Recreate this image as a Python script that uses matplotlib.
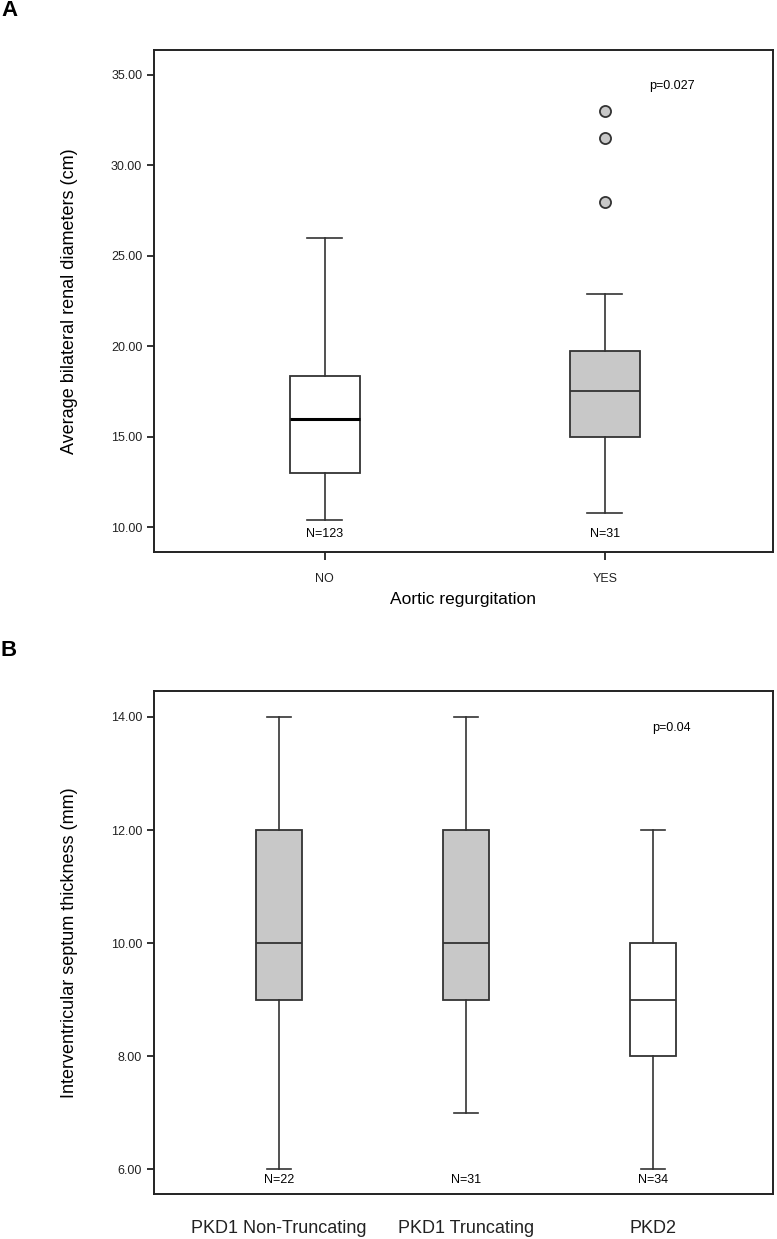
import matplotlib
matplotlib.use("Agg")
import matplotlib.pyplot as plt
from matplotlib.ticker import FormatStrFormatter

plt.rcParams['font.family'] = ['Liberation Sans', 'DejaVu Sans']

# panel A: average bilateral renal diameters by aortic regurgitation
a_groups = ["NO", "YES"]
a_n = [123, 31]
a_whislo = [10.4, 10.8]
a_q1 = [13.0, 15.0]
a_med = [16.0, 17.5]
a_q3 = [18.35, 19.75]
a_whishi = [26.0, 22.9]
a_fliers = [[], [28.0, 31.5, 33.0]]
a_fill = ["white", "#c8c8c8"]
a_ticks = [10, 15, 20, 25, 30, 35]

# panel B: interventricular septum thickness by genotype
b_groups = ["PKD1 Non-Truncating", "PKD1 Truncating", "PKD2"]
b_n = [22, 31, 34]
b_whislo = [6.0, 7.0, 6.0]
b_q1 = [9.0, 9.0, 8.0]
b_med = [10.0, 10.0, 9.0]
b_q3 = [12.0, 12.0, 10.0]
b_whishi = [14.0, 14.0, 12.0]
b_fill = ["#c8c8c8", "#c8c8c8", "white"]
b_ticks = [6, 8, 10, 12, 14]

W, H = 777, 1239
fig = plt.figure(figsize=(W / 100, H / 100), dpi=100)

edge = "#333333"


def make_stats(whislo, q1, med, q3, whishi, fliers):
    stats = []
    for i in range(len(med)):
        stats.append(dict(whislo=whislo[i], q1=q1[i], med=med[i], q3=q3[i],
                          whishi=whishi[i], fliers=fliers[i]))
    return stats


def style_axes(ax):
    for s in ax.spines.values():
        s.set_linewidth(1.4)
        s.set_color("#222222")
    ax.yaxis.set_major_formatter(FormatStrFormatter("%.2f"))
    ax.tick_params(axis="y", length=5, width=1.3, labelsize=9, colors="#222222")


# ---- panel A
axA = fig.add_axes([154 / W, 1 - 552 / H, 619 / W, 502 / H])
statsA = make_stats(a_whislo, a_q1, a_med, a_q3, a_whishi, a_fliers)
bpA = axA.bxp(statsA, positions=[1, 2], widths=0.25, patch_artist=True,
              capwidths=0.125,
              boxprops=dict(edgecolor=edge, linewidth=1.3),
              whiskerprops=dict(color=edge, linewidth=1.2),
              capprops=dict(color=edge, linewidth=1.2),
              medianprops=dict(color=edge, linewidth=1.3),
              flierprops=dict(marker="o", markerfacecolor="#c8c8c8",
                              markeredgecolor=edge, markersize=8,
                              markeredgewidth=1.3))
for patch, c in zip(bpA["boxes"], a_fill):
    patch.set_facecolor(c)
bpA["medians"][0].set_color("black")
bpA["medians"][0].set_linewidth(2.2)

axA.set_xlim(0.39, 2.6)
axA.set_ylim(8.62, 36.38)
axA.set_yticks(a_ticks)
axA.set_xticks([1, 2])
axA.set_xticklabels(a_groups)
axA.tick_params(axis="x", length=6, width=1.3, labelsize=9, pad=9,
                colors="#222222")
style_axes(axA)
axA.set_xlabel("Aortic regurgitation", fontsize=12.5, labelpad=5)
axA.set_ylabel("Average bilateral renal diameters (cm)", fontsize=13)
axA.yaxis.set_label_coords(-0.123, 0.5)
for x, n in zip([1, 2], a_n):
    axA.text(x, 9.6, f"N={n}", ha="center", va="center", fontsize=9)
axA.text(2.24, 34.4, "p=0.027", ha="center", va="center", fontsize=9)

# ---- panel B
axB = fig.add_axes([154 / W, 1 - 1194 / H, 619 / W, 503 / H])
statsB = make_stats(b_whislo, b_q1, b_med, b_q3, b_whishi, [[], [], []])
bpB = axB.bxp(statsB, positions=[1, 2, 3], widths=0.25, patch_artist=True,
              capwidths=0.125,
              boxprops=dict(edgecolor=edge, linewidth=1.3),
              whiskerprops=dict(color=edge, linewidth=1.2),
              capprops=dict(color=edge, linewidth=1.2),
              medianprops=dict(color=edge, linewidth=1.3))
for patch, c in zip(bpB["boxes"], b_fill):
    patch.set_facecolor(c)

axB.set_xlim(0.332, 3.642)
axB.set_ylim(5.56, 14.46)
axB.set_yticks(b_ticks)
axB.set_xticks([1, 2, 3])
axB.set_xticklabels(b_groups)
axB.tick_params(axis="x", length=0, labelsize=13, pad=19, colors="#222222")
style_axes(axB)
axB.set_ylabel("Interventricular septum thickness (mm)", fontsize=13)
axB.yaxis.set_label_coords(-0.123, 0.5)
for x, n in zip([1, 2, 3], b_n):
    axB.text(x, 5.8, f"N={n}", ha="center", va="center", fontsize=9)
axB.text(3.1, 13.8, "p=0.04", ha="center", va="center", fontsize=9)

fig.text(1 / W, 1 - 11 / H, "A", fontsize=16, fontweight="bold",
         va="center", ha="left")
fig.text(1 / W, 1 - 651 / H, "B", fontsize=16, fontweight="bold",
         va="center", ha="left")

fig.savefig("out.png", dpi=100)
